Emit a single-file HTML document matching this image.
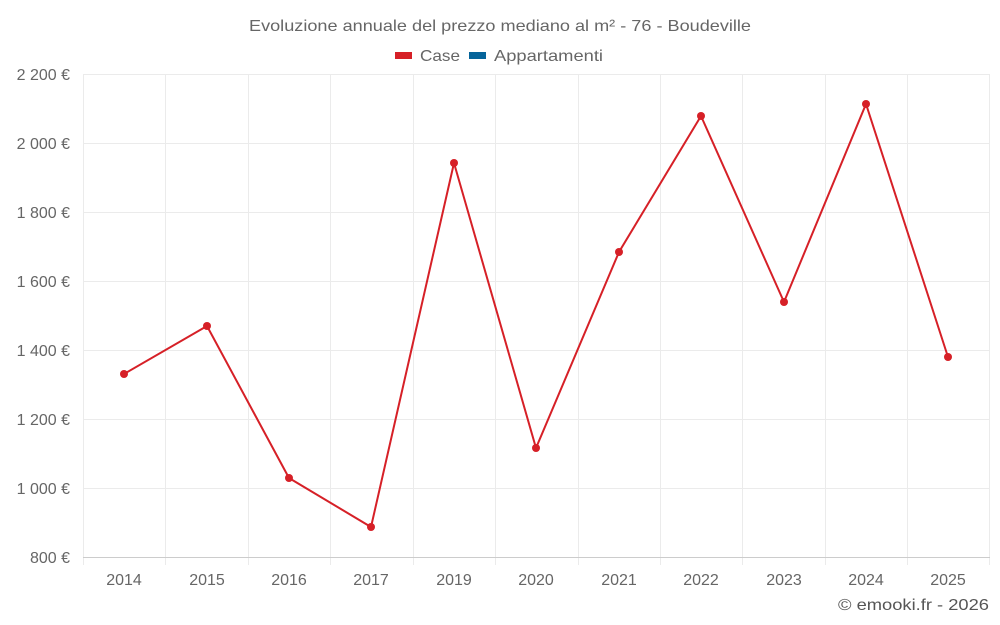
<!DOCTYPE html>
<html><head><meta charset="utf-8"><style>
body{margin:0;background:#fff;}
svg{display:block;font-family:"Liberation Sans",sans-serif;}
</style></head><body>
<svg width="1000" height="625" xmlns="http://www.w3.org/2000/svg">
<text x="249" y="31" font-size="16" fill="#666" textLength="502" lengthAdjust="spacingAndGlyphs">Evoluzione annuale del prezzo mediano al m² - 76 - Boudeville</text>
<rect x="395" y="52" width="17" height="7" fill="#d62027"/>
<text x="420" y="61" font-size="16" fill="#666" textLength="40" lengthAdjust="spacingAndGlyphs">Case</text>
<rect x="469" y="52" width="17" height="7" fill="#05649a"/>
<text x="494" y="61" font-size="16" fill="#666" textLength="109" lengthAdjust="spacingAndGlyphs">Appartamenti</text>
<g stroke="#ebebeb" stroke-width="1">
<line x1="83" y1="74.5" x2="990" y2="74.5"/><line x1="83" y1="143.5" x2="990" y2="143.5"/>
<line x1="83" y1="212.5" x2="990" y2="212.5"/><line x1="83" y1="281.5" x2="990" y2="281.5"/>
<line x1="83" y1="350.5" x2="990" y2="350.5"/><line x1="83" y1="419.5" x2="990" y2="419.5"/>
<line x1="83" y1="488.5" x2="990" y2="488.5"/>
<line x1="83.5" y1="74" x2="83.5" y2="565"/><line x1="165.5" y1="74" x2="165.5" y2="565"/>
<line x1="248.5" y1="74" x2="248.5" y2="565"/><line x1="330.5" y1="74" x2="330.5" y2="565"/>
<line x1="413.5" y1="74" x2="413.5" y2="565"/><line x1="495.5" y1="74" x2="495.5" y2="565"/>
<line x1="578.5" y1="74" x2="578.5" y2="565"/><line x1="660.5" y1="74" x2="660.5" y2="565"/>
<line x1="742.5" y1="74" x2="742.5" y2="565"/><line x1="825.5" y1="74" x2="825.5" y2="565"/>
<line x1="907.5" y1="74" x2="907.5" y2="565"/><line x1="989.5" y1="74" x2="989.5" y2="565"/>
</g>
<line x1="83" y1="557.5" x2="990" y2="557.5" stroke="#ccc"/>
<g font-size="16" fill="#666" text-anchor="end">
<text x="70" y="80">2 200 €</text><text x="70" y="149">2 000 €</text><text x="70" y="218">1 800 €</text>
<text x="70" y="287">1 600 €</text><text x="70" y="356">1 400 €</text><text x="70" y="425">1 200 €</text>
<text x="70" y="494">1 000 €</text><text x="70" y="563">800 €</text>
</g>
<g font-size="16" fill="#666" text-anchor="middle">
<text x="124" y="585">2014</text><text x="207" y="585">2015</text><text x="289" y="585">2016</text>
<text x="371" y="585">2017</text><text x="454" y="585">2019</text><text x="536" y="585">2020</text>
<text x="619" y="585">2021</text><text x="701" y="585">2022</text><text x="784" y="585">2023</text>
<text x="866" y="585">2024</text><text x="948" y="585">2025</text>
</g>
<polyline fill="none" stroke="#d62027" stroke-width="2" points="124,374 207,326 289,478 371,527 454,163 536,448 619,252 701,116 784,302 866,104 948,357"/>
<g fill="#d62027">
<circle cx="124" cy="374" r="4"/><circle cx="207" cy="326" r="4"/><circle cx="289" cy="478" r="4"/>
<circle cx="371" cy="527" r="4"/><circle cx="454" cy="163" r="4"/><circle cx="536" cy="448" r="4"/>
<circle cx="619" cy="252" r="4"/><circle cx="701" cy="116" r="4"/><circle cx="784" cy="302" r="4"/>
<circle cx="866" cy="104" r="4"/><circle cx="948" cy="357" r="4"/>
</g>
<text x="838" y="610" font-size="16" fill="#555" textLength="151" lengthAdjust="spacingAndGlyphs">© emooki.fr - 2026</text>
</svg>
</body></html>
